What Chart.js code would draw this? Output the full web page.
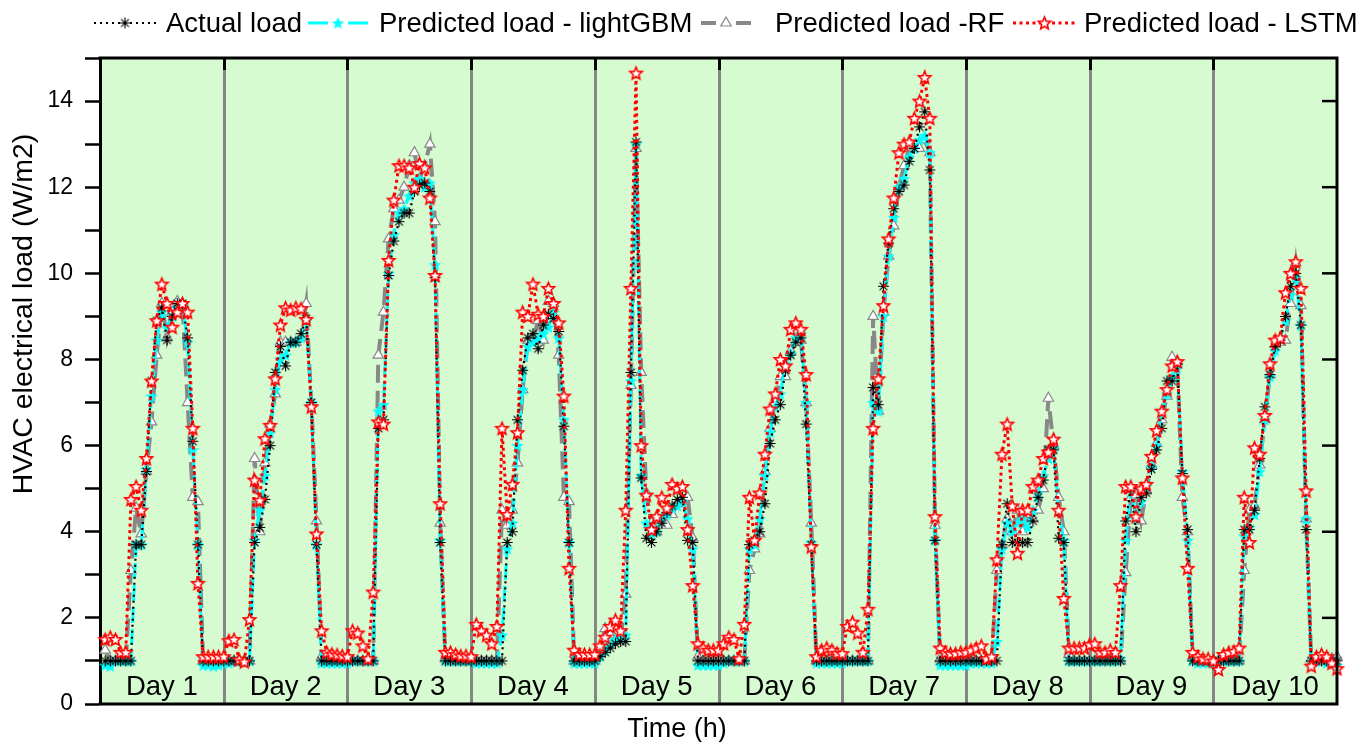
<!DOCTYPE html>
<html>
<head>
<meta charset="utf-8">
<title>HVAC electrical load</title>
<script src="https://cdn.jsdelivr.net/npm/chart.js@4.4.1/dist/chart.umd.min.js"></script>
<style>
  html, body { margin: 0; padding: 0; background: #fff; }
  canvas { display: block; }
</style>
</head>
<body>
<canvas id="loadChart" width="1370" height="742"></canvas>
<script>
// hourly HVAC load, 10 days x 24 h
const days = ['Day 1', 'Day 2', 'Day 3', 'Day 4', 'Day 5', 'Day 6', 'Day 7', 'Day 8', 'Day 9', 'Day 10'];
const hoursPerDay = 24;
const yTickLabels = [0, 2, 4, 6, 8, 10, 12, 14];

const actualLoad = [
  1, 1, 1, 1, 1, 1, 3.7, 3.7, 5.4, 7.5, 8.9, 9.2, 8.45, 9.0, 9.3, 9.3, 8.5, 6.1, 3.7, 1, 1, 1, 1, 1,
  1, 1, 1, 1, 1, 3.75, 4.1, 4.75, 6.0, 7.7, 8.3, 7.85, 8.4, 8.4, 8.6, 8.95, 7.0, 3.7, 1, 1, 1, 1, 1, 1,
  1, 1, 1, 1, 1, 6.4, 6.6, 9.95, 10.75, 11.2, 11.4, 11.4, 11.9, 12.05, 12.1, 11.9, 9.9, 3.75, 1, 1, 1, 1, 1, 1,
  1, 1, 1, 1, 1, 1, 3.75, 4.0, 6.6, 7.75, 8.5, 8.6, 8.25, 8.8, 9.05, 8.95, 8.65, 6.45, 3.75, 1, 1, 1, 1, 1,
  1.1, 1.2, 1.3, 1.4, 1.45, 1.45, 7.7, 13.05, 5.25, 3.85, 3.75, 4.0, 4.2, 4.45, 4.6, 4.75, 4.8, 3.8, 3.75, 1, 1, 1, 1, 1,
  1, 1, 1, 1, 1, 3.7, 3.8, 4.0, 4.65, 6.05, 6.6, 6.95, 7.75, 8.1, 8.4, 8.5, 6.5, 3.7, 1, 1, 1, 1, 1, 1,
  1, 1, 1, 1, 1, 7.35, 6.95, 9.7, 10.7, 11.5, 11.9, 12.05, 12.6, 12.9, 13.4, 13.75, 12.4, 3.8, 1, 1, 1, 1, 1, 1,
  1, 1, 1, 1, 1, 1, 3.7, 4.65, 3.75, 3.75, 3.75, 3.75, 4.25, 4.8, 5.2, 5.9, 5.9, 3.85, 3.75, 1, 1, 1, 1, 1,
  1, 1, 1, 1, 1, 1, 4.25, 5.0, 4.0, 4.8, 4.9, 5.45, 5.9, 6.4, 7.5, 7.5, 7.9, 5.35, 4.05, 1, 1, 1, 1, 1,
  1, 1, 1, 1, 1, 4.05, 4.05, 4.5, 5.7, 6.9, 7.65, 8.3, 8.45, 9.0, 9.7, 10.0, 8.8, 4.05, 1, 1, 1, 1, 1, 1
];

const lightgbmLoad = [
  0.9, 0.88, 1, 1, 1, 1, 3.7, 3.7, 5.45, 7.15, 8.45, 9.1, 8.75, 9.0, 9.2, 9.25, 8.4, 5.9, 3.7, 0.9, 0.9, 0.88, 0.9, 0.95,
  0.95, 1, 1, 1, 1, 3.8, 4.5, 5.3, 6.3, 7.3, 8.0, 8.1, 8.4, 8.4, 8.5, 8.9, 7.0, 3.7, 0.95, 0.95, 0.95, 0.95, 0.95, 0.95,
  1, 1, 1, 1, 1, 6.8, 6.95, 10.0, 10.9, 11.4, 11.5, 11.8, 12.1, 12.2, 12.0, 12.1, 10.2, 3.8, 1, 1, 1, 1, 1, 1,
  0.95, 0.95, 0.95, 0.95, 0.95, 1.6, 3.6, 4.2, 6.0, 7.3, 8.3, 8.4, 8.5, 8.6, 8.75, 9.1, 8.5, 6.6, 3.75, 0.95, 0.95, 0.95, 0.95, 0.95,
  1.1, 1.25, 1.4, 1.5, 1.55, 1.6, 7.5, 13.0, 5.3, 4.2, 3.95, 4.0, 4.3, 4.4, 4.55, 4.6, 4.7, 4.3, 3.6, 0.9, 0.9, 0.9, 0.9, 0.9,
  0.95, 1, 1, 1, 1, 3.6, 3.7, 4.3, 5.3, 6.3, 6.9, 7.2, 7.9, 8.15, 8.5, 8.6, 7.0, 3.75, 0.95, 0.95, 0.95, 0.95, 0.95, 0.95,
  1, 1, 1, 1, 1, 7.0, 6.8, 9.0, 10.4, 11.3, 12.0, 12.2, 12.7, 12.9, 13.1, 13.2, 12.8, 3.8, 0.9, 0.9, 0.9, 0.9, 0.9, 0.9,
  0.95, 0.95, 0.95, 0.95, 0.95, 1.45, 3.6, 4.2, 4.0, 4.2, 4.3, 4.1, 4.5, 4.9, 5.3, 5.7, 5.95, 4.5, 3.8, 1, 1, 1, 1, 1,
  1, 1, 1, 1, 1, 1.05, 3.8, 5.0, 4.3, 4.7, 5.05, 5.5, 6.0, 6.8, 7.2, 7.6, 7.8, 5.4, 3.8, 1, 0.95, 0.95, 0.95, 0.95,
  0.95, 1, 1, 1, 1, 3.9, 4.1, 4.4, 5.4, 6.6, 7.6, 8.2, 8.5, 8.9, 9.5, 9.9, 8.8, 4.3, 0.9, 1, 1, 0.95, 0.95, 0.9
];

const rfLoad = [
  1.25, 1, 1, 1, 1, 3.1, 4.55, 3.95, 5.4, 6.55, 8.1, 9.3, 8.5, 9.1, 9.35, 9.3, 7.0, 4.8, 4.7, 1, 1, 1, 1, 1,
  1, 1, 1, 1, 1, 5.7, 4.0, 5.6, 6.5, 7.2, 8.4, 8.4, 8.4, 8.4, 8.5, 9.3, 7.0, 4.25, 1.1, 1, 1, 1, 1, 1,
  1, 1, 1, 1, 1, 8.1, 9.1, 10.8, 11.5, 11.7, 12.0, 12.5, 12.8, 12.2, 12.5, 13.0, 11.2, 4.2, 1.05, 1.05, 1, 1, 1, 1,
  1, 1, 1, 1, 1, 4.5, 4.15, 4.5, 5.6, 7.3, 8.45, 8.45, 8.9, 8.45, 9.35, 9.3, 8.1, 4.8, 4.7, 1, 1, 1, 1, 1,
  1.3, 1.75, 1.6, 1.5, 1.5, 2.55, 7.4, 12.9, 7.7, 4.9, 4.2, 4.0, 4.3, 4.15, 4.4, 4.65, 4.7, 4.8, 3.85, 1.1, 1, 1, 1, 1,
  1, 1, 1, 1, 1, 3.1, 3.6, 3.95, 5.4, 6.4, 7.0, 7.6, 7.6, 8.2, 8.4, 8.45, 7.0, 4.2, 1, 1, 1, 1, 1, 1,
  1, 1, 1, 1, 1, 9.0, 6.8, 9.1, 10.4, 11.1, 12.0, 12.5, 12.9, 12.9, 12.9, 13.1, 12.8, 4.15, 1.05, 1, 1, 1, 1, 1,
  1, 1, 1, 1, 1, 3.1, 3.7, 4.3, 4.0, 4.5, 4.0, 4.4, 4.3, 4.5, 5.0, 7.1, 6.0, 4.8, 4.0, 1.15, 1, 1, 1, 1,
  1, 1, 1, 1, 1, 1, 3.05, 4.8, 4.85, 4.25, 4.95, 5.55, 6.05, 6.6, 7.15, 8.05, 7.95, 4.8, 4.0, 1.1, 1, 1, 1, 1,
  1, 1, 1, 1, 1, 3.1, 4.5, 4.6, 5.55, 6.6, 7.65, 8.35, 8.4, 8.45, 9.3, 10.25, 9.25, 4.3, 1.05, 1.05, 1.05, 1.05, 1.05, 1.1
];

const lstmLoad = [
  1.5, 1.55, 1.5, 1.2, 1.2, 4.75, 5.05, 4.5, 5.7, 7.5, 8.9, 9.75, 9.3, 8.75, 9.1, 9.3, 9.1, 6.4, 2.8, 1.1, 1.1, 1.1, 1.1, 1.1,
  1.47, 1.5, 1.03, 0.98, 1.96, 5.2, 4.73, 6.16, 6.47, 7.55, 8.8, 9.2, 9.15, 9.2, 9.18, 8.93, 6.9, 3.95, 1.7, 1.2, 1.16, 1.14, 1.12, 1.1,
  1.7, 1.65, 1.35, 1.05, 2.6, 6.55, 6.5, 10.3, 11.7, 12.5, 12.5, 12.45, 12.0, 12.55, 12.45, 11.75, 9.95, 4.65, 1.2, 1.2, 1.15, 1.12, 1.12, 1.1,
  1.85, 1.7, 1.6, 1.4, 1.8, 6.4, 4.4, 5.1, 6.3, 9.1, 9.0, 9.75, 9.05, 9.0, 9.65, 9.3, 8.85, 7.15, 3.15, 1.25, 1.15, 1.15, 1.15, 1.15,
  1.35, 1.55, 1.8, 1.95, 1.7, 4.5, 9.65, 14.65, 6.0, 4.85, 4.05, 4.35, 4.8, 4.55, 5.1, 5.0, 5.05, 4.05, 2.75, 1.4, 1.3, 1.25, 1.25, 1.25,
  1.4, 1.55, 1.5, 1.05, 1.85, 4.8, 3.8, 4.9, 5.8, 6.85, 7.2, 8.0, 7.85, 8.7, 8.85, 8.7, 7.65, 3.65, 1.1, 1.25, 1.3, 1.25, 1.18, 1.17,
  1.8, 1.9, 1.65, 1.2, 2.2, 6.4, 7.55, 9.25, 10.8, 11.75, 12.8, 13.0, 13.05, 13.6, 14.0, 14.55, 13.6, 4.35, 1.3, 1.2, 1.17, 1.17, 1.2, 1.2,
  1.25, 1.3, 1.35, 1.05, 1.1, 3.35, 5.8, 6.5, 4.6, 3.5, 4.5, 4.5, 5.05, 5.2, 5.7, 5.85, 6.15, 4.5, 2.45, 1.3, 1.3, 1.3, 1.3, 1.38,
  1.4, 1.2, 1.2, 1.25, 1.2, 2.75, 5.05, 5.05, 4.35, 5.0, 5.1, 5.75, 6.35, 6.8, 7.3, 7.85, 7.95, 5.25, 3.15, 1.2, 1.1, 1.05, 1.05, 1.0,
  0.8, 1.15, 1.2, 1.22, 1.3, 4.8, 3.75, 5.95, 5.8, 6.7, 7.9, 8.45, 8.5, 9.55, 10.0, 10.27, 9.65, 4.95, 0.88, 1.1, 1.15, 1.1, 0.95, 0.82
];

const FONT = "'Liberation Sans', Arial, Helvetica, sans-serif";
const PLOT_BG = '#d6fbd1';

// hour k of the series sits at x = k (1..240)
const toPoints = vals => vals.map((v, i) => ({ x: i + 1, y: v }));

// five-pointed star marker drawn on a small canvas
function starMarker(r, fill, stroke, lw) {
  const size = Math.ceil(2 * r + 2 * lw + 2);
  const c = document.createElement('canvas');
  c.width = c.height = size;
  const g = c.getContext('2d');
  g.translate(size / 2, size / 2 + r * 0.08);
  g.beginPath();
  for (let i = 0; i < 10; i++) {
    const rad = i % 2 ? r * 0.45 : r;
    const a = -Math.PI / 2 + i * Math.PI / 5;
    g.lineTo(rad * Math.cos(a), rad * Math.sin(a));
  }
  g.closePath();
  g.fillStyle = fill;
  g.fill();
  if (stroke) {
    g.lineJoin = 'miter';
    g.strokeStyle = stroke;
    g.lineWidth = lw;
    g.stroke();
  }
  return c;
}

// thin eight-armed asterisk marker
function asteriskMarker(r, color, lw) {
  const size = Math.ceil(2 * r + 4);
  const c = document.createElement('canvas');
  c.width = c.height = size;
  const g = c.getContext('2d');
  g.translate(size / 2, size / 2);
  g.strokeStyle = color;
  g.lineWidth = lw;
  g.beginPath();
  for (let k = 0; k < 4; k++) {
    const a = k * Math.PI / 4;
    g.moveTo(-r * Math.cos(a), -r * Math.sin(a));
    g.lineTo(r * Math.cos(a), r * Math.sin(a));
  }
  g.stroke();
  return c;
}

const blackAsterisk = asteriskMarker(5.5, '#000', 1.1);
const cyanStar = starMarker(6.5, '#00ffff', null, 0);
const redStar = starMarker(6.5, '#ffffff', '#ff0000', 1.6);

const datasets = [
  {
    label: 'Actual load',
    data: toPoints(actualLoad),
    borderColor: '#000',
    borderWidth: 2.2,
    borderDash: [2, 4],
    pointStyle: blackAsterisk,
    order: 1
  },
  {
    label: 'Predicted load - lightGBM',
    data: toPoints(lightgbmLoad),
    borderColor: '#00ffff',
    borderWidth: 3,
    borderDash: [16, 6],
    pointStyle: cyanStar,
    order: 2
  },
  {
    label: 'Predicted load -RF',
    data: toPoints(rfLoad),
    borderColor: '#888888',
    borderWidth: 4,
    borderDash: [18, 8],
    pointStyle: 'triangle',
    pointRadius: 6,
    pointBackgroundColor: '#fff',
    pointBorderColor: '#888888',
    pointBorderWidth: 1.2,
    order: 3
  },
  {
    label: 'Predicted load - LSTM',
    data: toPoints(lstmLoad),
    borderColor: '#ff0000',
    borderWidth: 3,
    borderDash: [3, 3.5],
    pointStyle: redStar,
    order: 0
  }
];

// legend slots: sample line start/end and text x
const legendSlots = [
  { x0: 94, x1: 156, tx: 166, dashed: false },
  { x0: 308, x1: 368, tx: 379, dashed: true },
  { x0: 701, x1: 751, tx: 775, dashed: true },
  { x0: 1013, x1: 1076, tx: 1084, dashed: false }
];

const plotBackground = {
  id: 'plotBackground',
  beforeDraw(chart) {
    const { ctx, chartArea: a } = chart;
    ctx.save();
    ctx.fillStyle = PLOT_BG;
    ctx.fillRect(a.left, a.top, a.right - a.left, a.bottom - a.top);
    ctx.restore();
  }
};

// gray day separators and the day names along the bottom
const dayBands = {
  id: 'dayBands',
  beforeDatasetsDraw(chart) {
    const { ctx, chartArea: a, scales: { x, y } } = chart;
    ctx.save();
    ctx.strokeStyle = '#868686';
    ctx.lineWidth = 3;
    for (let d = 1; d < days.length; d++) {
      const px = Math.round(x.getPixelForValue(d * hoursPerDay)) + 0.5;
      ctx.beginPath();
      ctx.moveTo(px, a.top);
      ctx.lineTo(px, a.bottom);
      ctx.stroke();
    }
    ctx.fillStyle = '#000';
    ctx.font = `27.5px ${FONT}`;
    ctx.textAlign = 'center';
    ctx.textBaseline = 'alphabetic';
    days.forEach((name, d) => {
      const cx = x.getPixelForValue(d * hoursPerDay + hoursPerDay / 2);
      ctx.fillText(name, cx, y.getPixelForValue(0) - 9);
    });
    ctx.restore();
  }
};

// frame, mirrored ticks, axis titles and the legend
const frameAndLegend = {
  id: 'frameAndLegend',
  afterDraw(chart) {
    const { ctx, chartArea: a, scales: { x, y } } = chart;
    ctx.save();
    ctx.strokeStyle = '#000';
    ctx.lineWidth = 3;
    ctx.beginPath();
    ctx.moveTo(a.left - 1.5, a.top);
    ctx.lineTo(a.right, a.top);
    ctx.lineTo(a.right, a.bottom);
    ctx.lineTo(a.left - 1.5, a.bottom);
    ctx.stroke();

    // top ticks at day boundaries
    for (let d = 1; d < days.length; d++) {
      const px = Math.round(x.getPixelForValue(d * hoursPerDay)) + 0.5;
      ctx.beginPath();
      ctx.moveTo(px, a.top);
      ctx.lineTo(px, a.top + 12);
      ctx.stroke();
    }
    // right ticks, inward
    ctx.lineWidth = 2.5;
    yTickLabels.forEach(v => {
      if (v === 0) return;
      const py = y.getPixelForValue(v);
      ctx.beginPath();
      ctx.moveTo(a.right, py);
      ctx.lineTo(a.right - 15, py);
      ctx.stroke();
    });

    // axis titles
    ctx.fillStyle = '#000';
    ctx.textAlign = 'center';
    ctx.textBaseline = 'middle';
    ctx.font = `27px ${FONT}`;
    ctx.fillText('Time (h)', 677, 730);
    ctx.save();
    ctx.translate(24, 314);
    ctx.rotate(-Math.PI / 2);
    ctx.font = `28.5px ${FONT}`;
    ctx.fillText('HVAC electrical load (W/m2)', 0, 0);
    ctx.restore();

    // legend
    const ly = 23;
    ctx.textAlign = 'left';
    ctx.font = `27.5px ${FONT}`;
    chart.data.datasets.forEach((ds, i) => {
      const s = legendSlots[i];
      const xm = (s.x0 + s.x1) / 2;
      ctx.save();
      ctx.strokeStyle = ds.borderColor;
      ctx.lineWidth = ds.borderWidth;
      ctx.beginPath();
      if (s.dashed) {
        ctx.moveTo(s.x0, ly);
        ctx.lineTo(xm - 10, ly);
        ctx.moveTo(xm + 10, ly);
        ctx.lineTo(s.x1, ly);
      } else {
        ctx.setLineDash(ds.borderDash);
        ctx.moveTo(s.x0, ly);
        ctx.lineTo(s.x1, ly);
      }
      ctx.stroke();
      ctx.restore();
      if (ds.pointStyle instanceof HTMLCanvasElement) {
        ctx.drawImage(ds.pointStyle, xm - ds.pointStyle.width / 2, ly - ds.pointStyle.height / 2);
      } else {
        ctx.save();
        ctx.fillStyle = ds.pointBackgroundColor;
        ctx.strokeStyle = ds.pointBorderColor;
        ctx.lineWidth = ds.pointBorderWidth;
        Chart.helpers.drawPoint(ctx, {
          pointStyle: ds.pointStyle,
          radius: ds.pointRadius,
          rotation: 0,
          borderWidth: ds.pointBorderWidth
        }, xm, ly);
        ctx.restore();
      }
      ctx.fillStyle = '#000';
      ctx.fillText(ds.label, s.tx, ly + 1);
    });
    ctx.restore();
  }
};

new Chart(document.getElementById('loadChart'), {
  type: 'line',
  data: { datasets },
  options: {
    responsive: false,
    animation: false,
    devicePixelRatio: 1,
    events: [],
    layout: { padding: { top: 58, right: 33, bottom: 38, left: 0 } },
    elements: {
      line: { tension: 0, borderCapStyle: 'butt', fill: false },
      point: { radius: 6, hoverRadius: 6 }
    },
    datasets: { line: { clip: false } },
    plugins: {
      legend: { display: false },
      tooltip: { enabled: false }
    },
    scales: {
      x: {
        type: 'linear',
        min: 0,
        max: days.length * hoursPerDay,
        display: false
      },
      y: {
        min: 0,
        max: 15,
        afterFit(scale) { scale.width = 100; },
        border: { display: true, color: '#000', width: 3 },
        grid: {
          drawOnChartArea: false,
          drawTicks: true,
          tickLength: 15,
          tickWidth: 2.5,
          color: '#000'
        },
        ticks: {
          stepSize: 1,
          padding: 12,
          color: '#000',
          font: { family: FONT, size: 23 },
          callback: v => (yTickLabels.includes(v) ? String(v) : '')
        }
      }
    }
  },
  plugins: [plotBackground, dayBands, frameAndLegend]
});
</script>
</body>
</html>
